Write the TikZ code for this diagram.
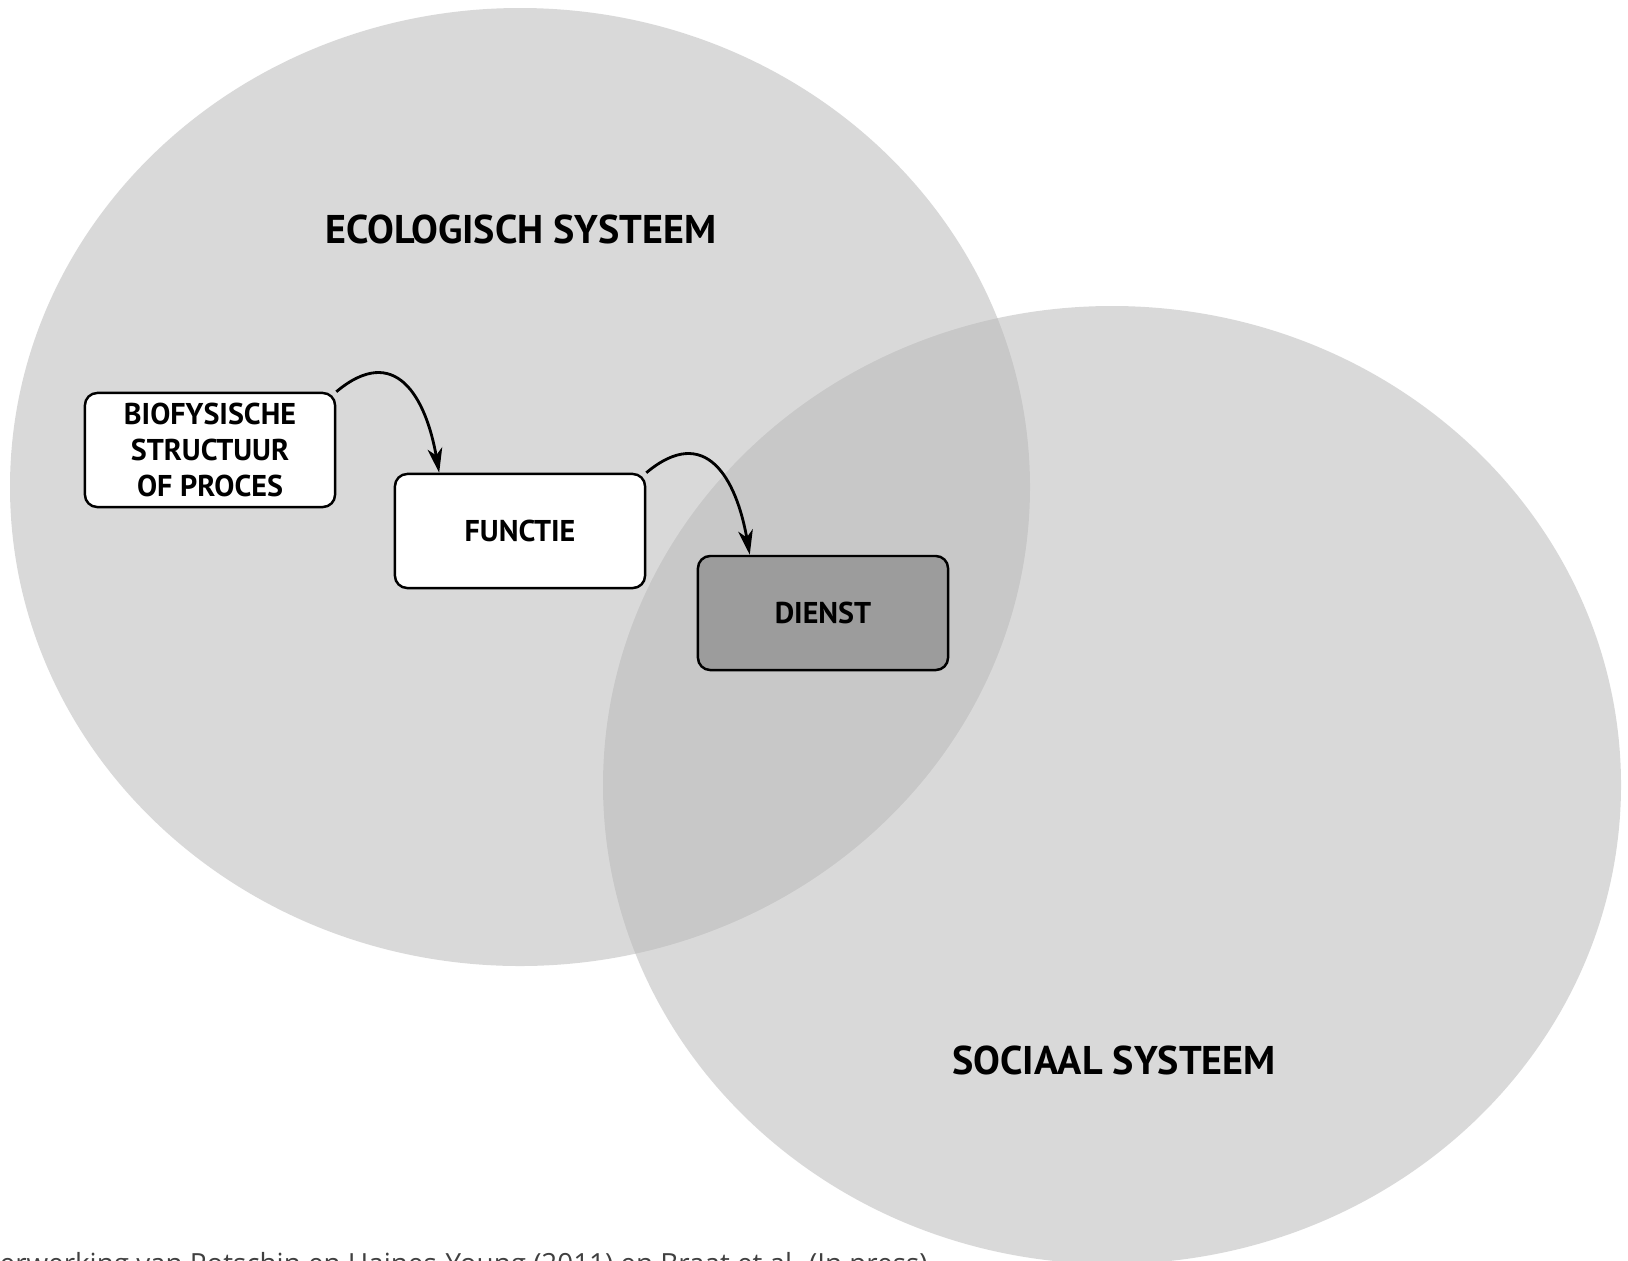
\documentclass[tikz,border=0pt]{standalone}
\usepackage{fontspec}
\setmainfont{PT Sans}
\newfontfamily\footfont{Open Sans}
\usetikzlibrary{calc,arrows.meta}

\definecolor{systeemgrijs}{gray}{0.72}
\definecolor{dienstgrijs}{gray}{0.61}

\begin{document}
\begin{tikzpicture}[x=0.01cm,y=-0.01cm,
  systeem/.style={fill=systeemgrijs,fill opacity=0.53},
  blok/.style={draw=black,line width=0.7pt,rounded corners=3.5pt,fill=white,
    minimum width=2.5cm,minimum height=1.14cm,align=center,inner sep=0pt,
    font=\fontsize{8.55}{10.2}\selectfont\bfseries},
  titel/.style={font=\fontsize{11.4}{13}\selectfont\bfseries},
  pijl/.style={-{Stealth[length=7pt,width=4.2pt,inset=2pt]},line width=0.8pt}]
  \useasboundingbox (0,0) rectangle (1628,1260);
  \clip (0,0) rectangle (1628,1260);

  \path[systeem] (520,487) ellipse [x radius=510,y radius=479];
  \path[systeem] (1112,785) ellipse [x radius=509,y radius=479];

  \node[titel] (eco) at (521,229) {ECOLOGISCH SYSTEEM};
  \node[titel] (soc) at (1114,1060) {SOCIAAL SYSTEEM};

  \node[blok] (bio) at (210,450) {BIOFYSISCHE\\STRUCTUUR\\OF PROCES};
  \node[blok] (func) at (520,531) {FUNCTIE};
  \node[blok,fill=dienstgrijs] (dienst) at (823,613) {DIENST};

  \draw[pijl] (bio.north east) to[out=40,in=100,looseness=1.5] ($ (func.north west) ! 0.18 ! (func.north east) $);
  \draw[pijl] (func.north east) to[out=40,in=100,looseness=1.5] ($ (dienst.north west) ! 0.21 ! (dienst.north east) $);

  \node[anchor=base west,inner sep=0pt,text=black!75,font=\footfont\fontsize{7.9}{9}\selectfont] (bron) at (-1,1273)
    {erwerking van Potschin en Haines-Young (2011) en Braat et al. (In press)};
\end{tikzpicture}
\end{document}
